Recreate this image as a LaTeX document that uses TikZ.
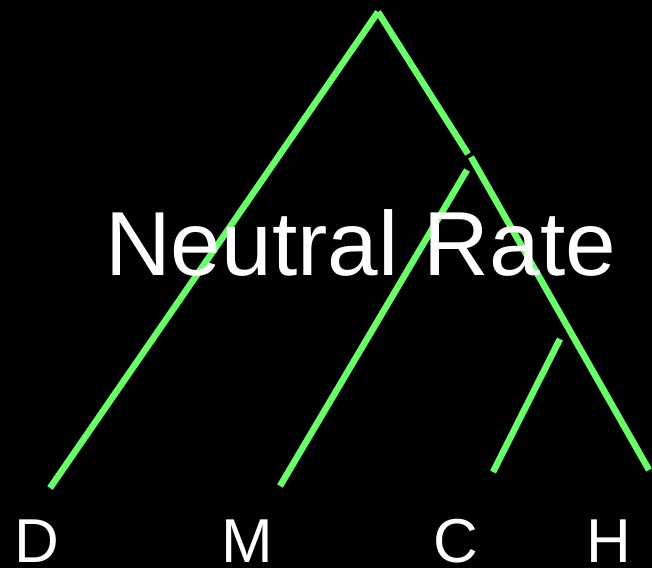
\documentclass[tikz,border=0pt]{standalone}
\usepackage{fontspec}
\setmainfont{Liberation Sans}
\definecolor{branch}{HTML}{66FF66}
\begin{document}
\begin{tikzpicture}[x=1pt,y=-1pt,
  edge/.style={draw=branch,line width=6.5pt,line cap=butt},
  leaf/.style={text=white,font=\fontsize{62}{62}\selectfont,inner sep=0pt,anchor=base},
  title/.style={text=white,font=\fontsize{91}{91}\selectfont,inner sep=0pt,anchor=base west}]
\fill[black] (0,0) rectangle (652,568);
\useasboundingbox (0,0) rectangle (652,568);
% tree points
\coordinate (root) at (378,12);
\coordinate (dEnd) at (50,488);
\coordinate (j1a) at (468,154);
\coordinate (j1b) at (471,157);
\coordinate (hEnd) at (649,470);
\coordinate (mTop) at (467,170);
\coordinate (mEnd) at (280,486);
\coordinate (cTop) at (560,339);
\coordinate (cEnd) at (493,472);
% branches
\draw[edge] (root) -- (dEnd);
\draw[edge] (root) -- (j1a);
\draw[edge] (j1b) -- (hEnd);
\draw[edge] (mTop) -- (mEnd);
\draw[edge] (cTop) -- (cEnd);
% labels
\node[title] (rate) at (105,275) {Neutral Rate};
\node[leaf] (D) at (37,562) {D};
\node[leaf] (M) at (247,562) {M};
\node[leaf] (C) at (456,562) {C};
\node[leaf] (H) at (609,562) {H};
\end{tikzpicture}
\end{document}
